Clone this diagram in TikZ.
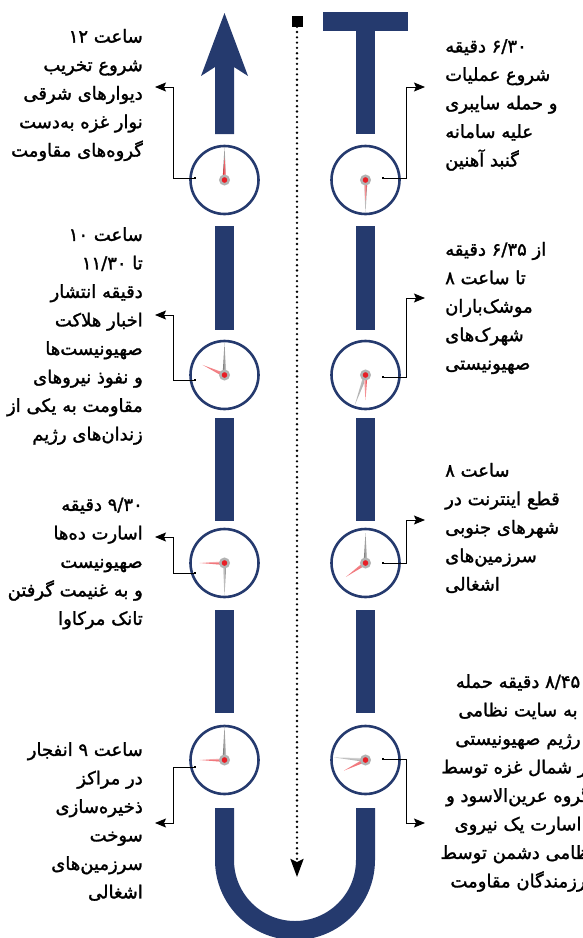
\documentclass[tikz,border=0pt]{standalone}
\usepackage{fontspec}
\usetikzlibrary{arrows.meta}
\newfontfamily\arabicfont[Script=Arabic, FakeBold=1.6]{DejaVu Sans}
\TeXXeTstate=1
\definecolor{dunkelblau}{RGB}{37,58,110}
\definecolor{zeigerrot}{RGB}{232,30,38}
\definecolor{grau}{RGB}{120,120,120}
\newcommand{\fa}[1]{\beginR #1\endR}

\begin{document}
\begin{tikzpicture}[
    x=1pt, y=-1pt,
    uhr/.style={
      circle,
      draw=dunkelblau,
      line width=2.6pt,
      minimum size=68pt,
      inner sep=0pt},
    nabe/.style={
      circle,
      fill=zeigerrot,
      draw=gray!60,
      line width=2.4pt,
      minimum size=8.5pt,
      inner sep=0pt},
    punkt/.style={
      rectangle,
      fill=black,
      minimum size=2.8pt,
      inner sep=0pt},
    notiz/.style={
      inner sep=0pt,
      font=\arabicfont\fontsize{18}{28.5}\selectfont},
    pfeil/.style={
      line width=.9pt,
      -{Stealth[length=11pt,width=9pt,inset=2pt]}},
    spur/.style={fill=dunkelblau},
    /zeiger/.code n args={4}{
      \shade[left color=#4, right color=#4!20, shading angle={0-(#2)}]
        ([shift={(#2+90:1.9)}]#1.center) -- ([shift={(#2:#3)}]#1.center)
        -- ([shift={(#2-90:1.9)}]#1.center) -- cycle;
      }
    ]

  \useasboundingbox (0,0) rectangle (583,938);

  \fill[spur] (224.5,13) -- (248,76) -- (234,67) -- (234,134) -- (215,134) -- (215,67) -- (201,76) -- cycle;
  \fill[spur] (323,12) rectangle (408,31);
  \fill[spur] (356,12) rectangle (375,134);
  \foreach \x in {215,356}
    \foreach \oben/\unten in {226/330,418/521,610/713}
      \fill[spur] (\x,\oben) rectangle (\x+19,\unten);
  \draw[dunkelblau, line width=19pt] (224.5,808) -- (224.5,860) arc[start angle=180, end angle=0, radius=70.5] -- (365.5,808);

  \node at (297,21) (anfang) [rectangle, fill=black, minimum size=11pt, inner sep=0pt] {};
  \coordinate (ende) at (297,877);
  \draw [line width=2.6pt, line cap=round, dash pattern=on 0pt off 5.3pt,
    -{Stealth[length=18pt,width=13pt,inset=3pt]}] (anfang) -- (ende);

  \node at (224.5,180) (uhrL1) [uhr] {};
  \node at (365.5,180) (uhrR1) [uhr] {};
  \node at (224.5,375) (uhrL2) [uhr] {};
  \node at (365.5,375) (uhrR2) [uhr] {};
  \node at (224.5,563) (uhrL3) [uhr] {};
  \node at (365.5,563) (uhrR3) [uhr] {};
  \node at (224.5,760) (uhrL4) [uhr] {};
  \node at (365.5,760) (uhrR4) [uhr] {};

  \foreach \uhr/\winkel/\laenge/\farbe in {
      uhrL1/-90/33/grau, uhrL1/-90/22/zeigerrot,
      uhrR1/90/33/grau, uhrR1/90/21/zeigerrot,
      uhrL2/-90/32/grau, uhrL2/204.7/24/zeigerrot,
      uhrR2/109.6/32/grau, uhrR2/90/25/zeigerrot,
      uhrL3/90/33/grau, uhrL3/180/25/zeigerrot,
      uhrR3/-90/30/grau, uhrR3/144.6/24/zeigerrot,
      uhrL4/-90/34/grau, uhrL4/180/25/zeigerrot,
      uhrR4/184.7/32/grau, uhrR4/153.7/24/zeigerrot}
    \tikzset{/zeiger={\uhr}{\winkel}{\laenge}{\farbe}};

  \foreach \uhr in {uhrL1,uhrR1,uhrL2,uhrR2,uhrL3,uhrR3,uhrL4,uhrR4}
    \node at (\uhr) (nabe\uhr) [nabe] {};

  \node at (143,95) (textL1) [notiz, anchor=east, align=right]
    {\fa{ساعت \beginL ۱۲\endL}\\ \fa{شروع تخریب}\\ \fa{دیوارهای شرقی}\\ \fa{نوار غزه به^^^^200cدست}\\ \fa{گروه^^^^200cهای مقاومت}};
  \node at (445,105) (textR1) [notiz, anchor=west, align=left]
    {\fa{\beginL ۶/۳۰\endL{} دقیقه}\\ \fa{شروع عملیات}\\ \fa{و حمله سایبری}\\ \fa{علیه سامانه}\\ \fa{گنبد آهنین}};
  \node at (143,336) (textL2) [notiz, anchor=east, align=right]
    {\fa{ساعت \beginL ۱۰\endL}\\ \fa{تا \beginL ۱۱/۳۰\endL}\\ \fa{دقیقه انتشار}\\ \fa{اخبار هلاکت}\\ \fa{صهیونیست^^^^200cها}\\ \fa{و نفوذ نیروهای}\\ \fa{مقاومت به یکی از}\\ \fa{زندان^^^^200cهای رژیم}};
  \node at (445,308) (textR2) [notiz, anchor=west, align=left]
    {\fa{از \beginL ۶/۳۵\endL{} دقیقه}\\ \fa{تا ساعت \beginL ۸\endL}\\ \fa{موشک^^^^200cباران}\\ \fa{شهرک^^^^200cهای}\\ \fa{صهیونیستی}};
  \node at (143,563.5) (textL3) [notiz, anchor=east, align=right]
    {\fa{\beginL ۹/۳۰\endL{} دقیقه}\\ \fa{اسارت ده^^^^200cها}\\ \fa{صهیونیست}\\ \fa{و به غنیمت گرفتن}\\ \fa{تانک مرکاوا}};
  \node at (445,528) (textR3) [notiz, anchor=west, align=left]
    {\fa{ساعت \beginL ۸\endL}\\ \fa{قطع اینترنت در}\\ \fa{شهرهای جنوبی}\\ \fa{سرزمین^^^^200cهای}\\ \fa{اشغالی}};
  \node at (143,821.5) (textL4) [notiz, anchor=east, align=right]
    {\fa{ساعت \beginL ۹\endL{} انفجار}\\ \fa{در مراکز}\\ \fa{ذخیره^^^^200cسازی}\\ \fa{سوخت}\\ \fa{سرزمین^^^^200cهای}\\ \fa{اشغالی}};
  \node at (518,783) (textR4) [notiz, align=center]
    {\fa{\beginL ۸/۴۵\endL{} دقیقه حمله}\\ \fa{به سایت نظامی}\\ \fa{رژیم صهیونیستی}\\ \fa{در شمال غزه توسط}\\ \fa{گروه عرین^^^^200cالاسود و}\\ \fa{اسارت یک نیروی}\\ \fa{نظامی دشمن توسط}\\ \fa{رزمندگان مقاومت}};

  \node at (195,178) (punktL1) [punkt] {};
  \node at (383,178) (punktR1) [punkt] {};
  \node at (195,380) (punktL2) [punkt] {};
  \node at (383,377) (punktR2) [punkt] {};
  \node at (195,573) (punktL3) [punkt] {};
  \node at (383,563) (punktR3) [punkt] {};
  \node at (195,767) (punktL4) [punkt] {};
  \node at (383,759) (punktR4) [punkt] {};

  \coordinate (eckeL1) at (173,87);   \coordinate (zielL1) at (155,87);
  \coordinate (eckeR1) at (406,87);   \coordinate (zielR1) at (425,87);
  \coordinate (eckeL2) at (173,315);  \coordinate (zielL2) at (155,315);
  \coordinate (eckeR2) at (406,298);  \coordinate (zielR2) at (425,298);
  \coordinate (eckeL3) at (173,537);  \coordinate (zielL3) at (155,537);
  \coordinate (eckeR3) at (406,520);  \coordinate (zielR3) at (425,520);
  \coordinate (eckeL4) at (173,823);  \coordinate (zielL4) at (155,823);
  \coordinate (eckeR4) at (406,823);  \coordinate (zielR4) at (425,823);

  \foreach \n in {L1,R1,L2,R2,L3,R3,L4,R4}
    \draw [pfeil] (punkt\n.center) -| (ecke\n) -- (ziel\n);

\end{tikzpicture}
\end{document}
